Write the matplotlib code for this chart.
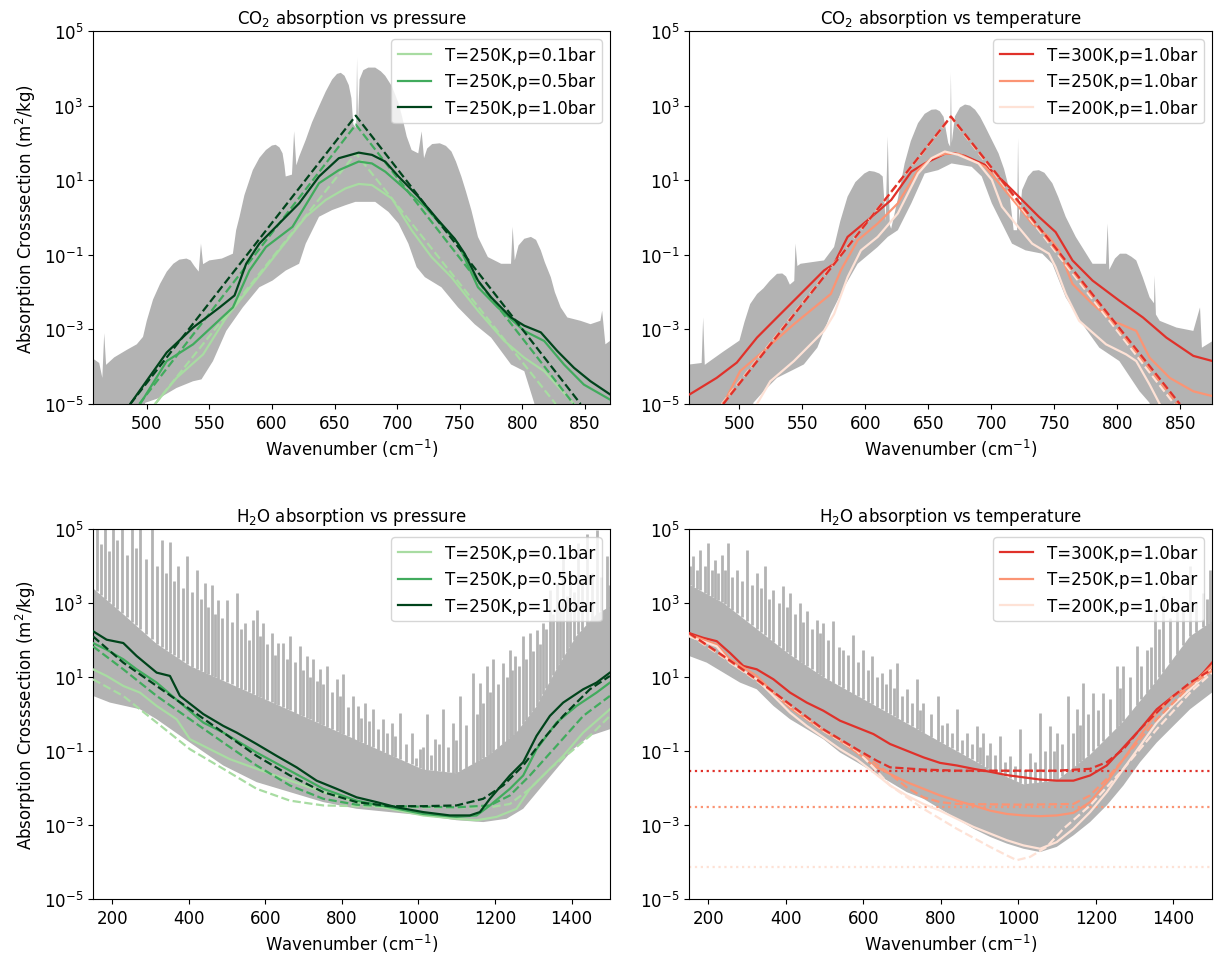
import matplotlib.pyplot as plt
import matplotlib.ticker as mticker
import numpy as np

# All series are (wavenumber in cm-1, log10 of cross-section in m2/kg).

# ---- CO2 vs pressure (T=250K) ----
co2p_gray_top = [(457.7, -3.80), (462, -3.90), (464.5, -4.3), (466, -3.10), (467.5, -3.95), (474, -3.75),
                 (484, -3.55), (492, -3.40), (497, -3.2), (500, -2.77), (505, -2.2), (510.6, -1.78),
                 (516, -1.45), (521.2, -1.24), (526, -1.13), (531.7, -1.10), (535, -1.15), (538, -1.30),
                 (541.5, -1.45), (543.3, -0.70), (545, -1.25), (550, -1.15), (560, -1.10), (568.8, -0.97),
                 (571.4, -0.34), (574.1, 0.02), (578, 0.60), (584.7, 1.27), (590, 1.60), (595.2, 1.81),
                 (600, 1.93), (603, 1.95), (606, 1.88), (608.5, 1.72), (610, 1.40), (611, 1.10), (616, 1.15),
                 (617.7, 2.31), (619.5, 1.40), (621.7, 1.63), (627, 2.08), (632, 2.55), (637.6, 2.98),
                 (643, 3.38), (648.1, 3.70), (652, 3.85), (655, 3.88), (658, 3.80), (661.4, 3.55),
                 (663.5, 3.20), (665, 2.50), (667.3, 2.40), (668, 4.28), (668.7, 2.50), (670, 3.70),
                 (673, 3.95), (677, 4.02), (682.5, 4.02), (687, 3.92), (690.5, 3.80), (695.8, 3.52),
                 (701.1, 3.07), (704, 2.70), (707.7, 2.17), (711.6, 1.81), (716.9, 1.72), (719.6, 2.31),
                 (721.5, 1.59), (724, 1.85), (728, 1.97), (734.1, 1.99), (739, 1.92), (743.4, 1.77),
                 (747, 1.50), (751.3, 1.10), (755, 0.70), (759.3, 0.20), (764.6, -0.52), (772.5, -1.06),
                 (783.1, -1.24), (791, -1.24), (792.3, -0.25), (794, -1.15), (797, -0.75), (801.6, -0.57),
                 (806.9, -0.52), (811, -0.60), (814.8, -0.88), (818, -1.20), (822.8, -1.60), (826, -2.0),
                 (830.7, -2.41), (836, -2.68), (846.6, -2.77), (854.5, -2.86), (862.4, -2.77), (863.8, -2.5),
                 (866.4, -3.40), (870, -3.31)]
co2p_gray_bottom = [(457.7, -5.3), (497, -5.3), (498.7, -4.97), (510.6, -4.83), (523.8, -4.57), (537, -4.39),
                    (543.7, -4.34), (552.9, -3.85), (563.5, -3.04), (576.7, -2.41), (589.9, -1.87),
                    (600.5, -1.69), (611.1, -1.42), (621.7, -1.24), (627, -0.70), (637.6, 0.02), (648.1, 0.20),
                    (658.7, 0.33), (666.7, 0.42), (682.5, 0.42), (693.1, 0.15), (701.1, -0.16), (709, -0.70),
                    (715.6, -1.33), (722.2, -1.60), (735.4, -1.87), (748.7, -2.41), (761.9, -2.86),
                    (775.1, -3.22), (791, -3.94), (801.6, -4.12), (809.5, -4.97), (812, -5.3), (870, -5.3)]
co2p_k01 = [(506.6, -5.0), (523.8, -4.30), (545, -3.67), (563.5, -2.68), (584.7, -1.78), (605.8, -0.88),
            (627, 0.02), (642.9, 0.47), (658.7, 0.78), (669.3, 0.90), (679.9, 0.87), (695.8, 0.51),
            (711.6, -0.34), (727.5, -1.06), (743.4, -1.60), (764.6, -2.50), (785.7, -3.31), (801.6, -3.76),
            (817.5, -4.12), (841.3, -5.0)]
co2p_k05 = [(494.7, -5.0), (515.9, -3.85), (537, -3.40), (568.8, -2.41), (582, -1.42), (595.2, -0.79),
            (616.4, -0.25), (637.6, 0.92), (653.4, 1.27), (669.3, 1.50), (679.9, 1.45), (690.5, 1.23),
            (701.1, 0.92), (722.2, 0.29), (748.7, -0.70), (764.6, -1.87), (780.4, -2.41), (801.6, -3.04),
            (817.5, -3.31), (833.3, -3.94), (849.2, -4.48), (870, -4.88)]
co2p_k10 = [(486.8, -5.0), (515.9, -3.62), (537, -2.95), (558.2, -2.41), (570.1, -2.09), (579.4, -1.24),
            (589.9, -0.70), (605.8, -0.16), (621.7, 0.38), (637.6, 1.10), (653.4, 1.59), (669.3, 1.74),
            (679.9, 1.68), (690.5, 1.50), (701.1, 1.10), (716.9, 0.56), (732.8, -0.07), (746, -0.57),
            (754, -0.97), (764.6, -1.69), (775.1, -2.14), (791, -2.68), (801.6, -2.90), (814.8, -3.08),
            (828, -3.58), (841.3, -4.03), (854.5, -4.39), (870, -4.74)]
co2p_fit01 = [(506.6, -5.0), (667, 1.72), (826.7, -5.0)]
co2p_fit05 = [(494, -5.0), (667, 2.49), (841, -5.0)]
co2p_fit10 = [(486.8, -5.0), (667, 2.73), (846.6, -5.0)]

# ---- CO2 vs temperature (p=1.0bar) ----
co2t_gray_top = [(460.6, -3.94), (470, -3.90), (471.2, -2.68), (472.5, -3.95), (476.6, -3.85), (487, -3.60),
                 (500, -3.30), (504, -2.80), (508.5, -2.32), (514, -2.05), (519, -1.90), (524, -1.70),
                 (529.8, -1.51), (534, -1.50), (537, -1.58), (540, -1.80), (543.5, -1.70), (544.5, -0.70),
                 (546, -1.30), (548.5, -1.24), (567.1, -1.15), (575.1, -0.79), (580, -0.10), (585.8, 0.56),
                 (592, 0.95), (599.1, 1.18), (603, 1.25), (607.1, 1.23), (611, 1.18), (613.7, 1.10),
                 (616, -0.10), (617.7, 2.17), (619.3, -0.20), (620.4, -0.30), (625.7, 0.50), (631.1, 1.45),
                 (636, 2.05), (641.7, 2.53), (647, 2.78), (652.4, 2.89), (656, 2.90), (659, 2.85),
                 (662, 2.70), (665.7, 2.00), (667.2, 1.90), (667.8, 3.88), (668.5, 2.00), (671, 2.71),
                 (675, 2.95), (679, 3.03), (683, 3.0), (687, 2.89), (691, 2.70), (695, 2.44), (700, 2.10),
                 (705.6, 1.72), (710, 1.30), (713.6, 0.83), (717.6, -0.34), (720.3, -0.34), (721.1, 2.13),
                 (722, -0.10), (724.3, 0.74), (729, 1.10), (733, 1.25), (737.6, 1.27), (742, 1.20),
                 (748.3, 0.92), (753, 0.55), (758.9, 0.02), (766.9, -0.52), (780.2, -1.24), (790.9, -1.24),
                 (792.2, -0.16), (793.5, -1.40), (798, -1.10), (802, -0.97), (806.9, -0.97), (811, -1.05),
                 (814.9, -1.15), (820, -1.60), (825.5, -2.14), (829, -2.3), (829.5, -1.56), (830.5, -2.6),
                 (833.5, -2.77), (846.8, -2.95), (860.2, -3.04), (865.5, -2.41), (867, -3.49), (875.6, -3.31)]
co2t_gray_bottom = [(460.6, -5.3), (511, -5.3), (511, -4.97), (519.2, -4.66), (529.8, -4.30), (540.5, -4.12),
                    (551.1, -3.94), (561.8, -3.49), (572.5, -2.59), (583.1, -1.87), (593.8, -1.24),
                    (609.7, -0.79), (617.7, -0.52), (625.7, -0.34), (636.4, 0.38), (647, 1.18), (657.7, 1.27),
                    (668.3, 1.45), (684.3, 1.36), (692.3, 1.10), (700.3, 0.38), (708.3, -0.16), (716.3, -0.70),
                    (727, -0.88), (740.3, -0.97), (748.3, -1.24), (758.9, -2.14), (772.2, -2.86),
                    (785.6, -3.49), (801.5, -3.85), (817.5, -4.66), (825.5, -4.97), (827, -5.3), (875.6, -5.3)]
co2t_k300 = [(460.6, -4.74), (481.9, -4.30), (497.9, -3.89), (513.9, -3.22), (529.8, -2.68), (548.5, -2.05),
             (567.1, -1.42), (575.1, -1.24), (585.8, -0.52), (601.8, -0.07), (620.4, 0.47), (636.4, 1.23),
             (647, 1.45), (663, 1.71), (671, 1.72), (679, 1.65), (695, 1.41), (711, 0.92), (727, 0.38),
             (737.6, 0.02), (750.9, -0.39), (764.3, -1.15), (780.2, -1.69), (801.5, -2.23), (820.2, -2.68),
             (838.8, -3.22), (860.2, -3.71), (875.6, -3.85)]
co2t_k250 = [(487.2, -5.0), (500.5, -4.12), (519.2, -3.58), (543.2, -2.86), (572.5, -2.05), (580.4, -1.42),
             (593.8, -0.61), (609.7, -0.16), (625.7, 0.38), (641.7, 1.27), (652.4, 1.59), (663, 1.71),
             (673.7, 1.71), (689.7, 1.45), (695, 1.36), (708.3, 0.83), (721.6, 0.29), (732.3, -0.16),
             (745.6, -0.52), (753.6, -0.88), (764.3, -1.78), (780.2, -2.32), (796.2, -2.77), (814.9, -3.04),
             (825.5, -3.76), (841.5, -4.30), (860.2, -4.66), (875.6, -4.79)]
co2t_k200 = [(513.9, -5.0), (524.5, -4.39), (543.2, -3.85), (567.1, -3.04), (575.1, -2.59), (585.8, -1.60),
             (596.4, -0.88), (609.7, -0.52), (625.7, 0.11), (641.7, 1.18), (652.4, 1.59), (663, 1.77),
             (673.7, 1.68), (689.7, 1.45), (700.3, 1.01), (708.3, 0.29), (719, -0.16), (732.3, -0.70),
             (745.6, -0.97), (750.9, -1.33), (758.9, -2.05), (769.6, -2.77), (790.9, -3.40), (806.9, -3.67),
             (814.9, -3.85), (825.5, -4.48), (833.5, -5.0)]
co2t_fit300 = [(487.2, -5.0), (667.8, 2.71), (849.5, -5.0)]
co2t_fit250 = [(486.5, -5.0), (667.8, 2.70), (847.5, -5.0)]
co2t_fit200 = [(486, -5.0), (667.8, 2.69), (845, -5.0)]

# ---- H2O vs pressure (T=250K) ----
h2op_gray_peaks = [(159.6, 5.1), (181.4, 5.1), (203.1, 5.1), (224.9, 5.1), (251, 5.1), (272.7, 5.1),
                   (303.2, 5.1), (329.3, 4.70), (351.1, 4.66), (372.8, 3.99), (394.6, 4.26), (420.7, 3.90),
                   (442.5, 3.54), (459.9, 3.49), (477.3, 3.09), (499, 3.09), (525.1, 3.27), (546.9, 2.46),
                   (568.6, 2.55), (577.4, 2.82), (594.8, 2.46), (616.5, 2.19), (633.9, 1.92), (647, 1.92),
                   (664.4, 2.10), (690.5, 1.83), (707.9, 1.57), (725.3, 1.48), (742.7, 1.21), (760.1, 1.30),
                   (786.2, 0.94), (803.6, 1.07), (829.7, 0.49), (842.8, 0.22), (860.2, 0.31), (882, 0.13),
                   (908.1, -0.14), (929.8, -0.23), (951.6, 0.04), (982, -0.50), (1003.8, -0.95), (1021.2, 0.0),
                   (1043, -0.68), (1064.7, 0.13), (1090.8, -0.23), (1108.2, 0.49), (1143, 1.12), (1160.4, 0.85),
                   (1177.9, 1.30), (1195.3, 1.48), (1221.4, 1.39), (1238.8, 1.74), (1251.9, 1.57),
                   (1273.6, 2.10), (1291, 2.19), (1308.4, 2.28), (1325.9, 2.46), (1343.3, 3.36), (1360.6, 3.54),
                   (1378, 4.26), (1395.5, 3.81), (1417.2, 4.61), (1438.9, 4.88), (1465.1, 4.97), (1491.2, 4.26)]
h2op_gray_minor = [(170, 4.6), (192, 4.4), (214, 4.7), (238, 4.3), (262, 4.5), (288, 4.2), (316, 4.0),
                   (340, 3.8), (362, 3.6), (384, 3.4), (408, 3.3), (431, 3.1), (451, 2.9), (468, 2.7),
                   (488, 2.6), (512, 2.5), (536, 2.3), (558, 2.0), (586, 2.1), (605, 1.9), (625, 1.6),
                   (656, 1.5), (677, 1.4), (699, 1.2), (716, 1.0), (734, 0.9), (751, 0.8), (773, 0.6),
                   (795, 0.5), (816, 0.2), (851, -0.1), (871, -0.2), (895, -0.4), (919, -0.5), (940, -0.6),
                   (967, -0.8), (993, -1.2), (1012, -0.9), (1032, -1.1), (1054, -0.8), (1078, -0.9),
                   (1099, -0.7), (1125, -0.3), (1152, 0.0), (1169, 0.3), (1186, 0.6), (1208, 0.8), (1230, 1.0),
                   (1245, 1.2), (1262, 1.3), (1282, 1.5), (1299, 1.7), (1317, 1.9), (1334, 2.3), (1352, 2.7),
                   (1369, 3.0), (1387, 3.2), (1406, 3.3), (1428, 3.6), (1452, 3.8), (1478, 3.7), (1496, 3.5)]
h2op_gray_body = [(150, 3.4), (229, 2.7), (316, 1.9), (403, 1.3), (490, 0.9), (577, 0.5), (664, 0.1),
                  (751, -0.3), (838, -0.7), (925, -1.1), (1012, -1.5), (1099, -1.6), (1186, -1.1),
                  (1256, -0.5), (1308, 0.2), (1360, 1.2), (1412, 2.1), (1465, 2.7), (1500, 2.9)]
h2op_gray_bottom = [(150, 0.49), (194.4, 0.31), (272.7, 0.13), (316.3, -0.14), (403.3, -0.77), (490.3, -1.39),
                    (577.4, -1.84), (664.4, -2.11), (751.4, -2.38), (838.4, -2.56), (925.5, -2.65),
                    (1012.5, -2.74), (1099.5, -2.87), (1169.2, -2.92), (1230.1, -2.83), (1273.6, -2.56),
                    (1317.1, -2.02), (1360.6, -1.48), (1404.2, -0.95), (1447.7, -0.59), (1500, -0.41)]
h2op_k01 = [(150, 1.21), (185.7, 1.03), (229.2, 0.76), (272.7, 0.58), (316.3, 0.22), (368.5, -0.14),
            (403.3, -0.68), (455.5, -0.95), (507.7, -1.22), (577.4, -1.48), (664.4, -1.80), (751.4, -2.11),
            (838.4, -2.38), (925.5, -2.56), (1012.5, -2.74), (1099.5, -2.83), (1151.8, -2.87), (1204, -2.78),
            (1256.2, -2.56), (1291, -2.02), (1343.3, -1.48), (1378, -1.13), (1430.3, -0.50), (1500, 0.13)]
h2op_k05 = [(150, 1.92), (185.7, 1.74), (229.2, 1.48), (264, 1.21), (316.3, 0.85), (377.2, 0.31),
            (438.1, -0.23), (490.3, -0.50), (577.4, -1.04), (664.4, -1.53), (751.4, -2.02), (838.4, -2.34),
            (925.5, -2.52), (1012.5, -2.70), (1099.5, -2.78), (1151.8, -2.74), (1186.6, -2.47),
            (1238.8, -2.02), (1273.6, -1.66), (1308.4, -0.95), (1360.6, -0.23), (1412.9, 0.22),
            (1465.1, 0.58), (1500, 0.85)]
h2op_k10 = [(150, 2.24), (185.7, 2.01), (229.2, 1.92), (264, 1.57), (316.3, 1.12), (351.1, 1.03),
            (377.2, 0.49), (438.1, 0.0), (490.3, -0.32), (525.1, -0.50), (577.4, -0.81), (629.6, -1.13),
            (681.8, -1.44), (734, -1.80), (786.2, -2.02), (838.4, -2.25), (890.7, -2.38), (942.9, -2.52),
            (1012.5, -2.65), (1082.2, -2.74), (1134.3, -2.74), (1160.4, -2.65), (1186.6, -2.29),
            (1238.8, -1.66), (1273.6, -1.30), (1308.4, -0.59), (1343.3, -0.05), (1378, 0.31),
            (1430.3, 0.67), (1465.1, 0.85), (1500, 1.12)]
h2op_fit01 = [(150, 0.94), (229.2, 0.49), (316.3, -0.23), (403.3, -0.95), (490.3, -1.48), (577.4, -2.02),
              (664.4, -2.34), (751.4, -2.47), (838.4, -2.49), (1012.5, -2.52), (1186.6, -2.52),
              (1238.8, -2.43), (1291, -2.02), (1343.3, -1.48), (1395.5, -1.04), (1447.7, -0.59), (1500, -0.05)]
h2op_fit05 = [(150, 1.83), (229.2, 1.21), (316.3, 0.49), (403.3, -0.14), (490.3, -0.77), (577.4, -1.39),
              (664.4, -1.93), (751.4, -2.29), (838.4, -2.45), (925.5, -2.49), (1099.5, -2.52),
              (1186.6, -2.47), (1238.8, -2.20), (1291, -1.66), (1360.6, -0.86), (1430.3, -0.05), (1500, 0.49)]
h2op_fit10 = [(150, 2.10), (229.2, 1.39), (316.3, 0.76), (403.3, 0.13), (490.3, -0.50), (577.4, -1.13),
              (664.4, -1.66), (751.4, -2.11), (838.4, -2.38), (925.5, -2.49), (1012.5, -2.49),
              (1099.5, -2.47), (1169.2, -2.29), (1221.4, -1.93), (1273.6, -1.39), (1325.9, -0.68),
              (1378, -0.05), (1447.7, 0.67), (1500, 1.03)]

# ---- H2O vs temperature (p=1.0bar) ----
h2ot_gray_peaks = [(161.2, 4.26), (178.4, 4.43), (199.9, 4.61), (217.1, 4.17), (234.4, 4.30), (251.6, 4.61),
                   (273.1, 3.90), (298.9, 4.43), (324.7, 3.81), (346.2, 3.99), (367.8, 3.36), (393.6, 3.45),
                   (410.8, 3.27), (436.6, 3.0), (453.8, 2.78), (479.6, 2.55), (496.8, 2.46), (522.6, 2.51),
                   (548.5, 1.74), (574.3, 2.15), (600.1, 1.74), (621.6, 1.57), (647.5, 1.12), (669, 1.21),
                   (686.2, 1.39), (712, 0.67), (737.8, 0.94), (755, 0.31), (793.7, 0.49), (815.3, -0.23),
                   (841.1, 0.13), (866.9, -0.50), (892.7, -0.32), (909.9, -0.50), (927.1, -0.77), (952.9, -0.59),
                   (978.8, -1.13), (1004.6, -0.41), (1030.4, -1.04), (1056.2, 0.04), (1082, -0.32),
                   (1099.3, -0.50), (1129.4, 0.49), (1150.9, 0.13), (1168.1, 0.85), (1193.9, 0.58),
                   (1219.7, 0.58), (1254.2, 1.30), (1271.4, 1.30), (1305.8, 1.83), (1331.6, 1.74),
                   (1353.1, 2.82), (1374.6, 3.18), (1409, 3.09), (1443.5, 3.99), (1477.9, 3.27), (1495, 3.9)]
h2ot_gray_minor = [(152, 4.0), (170, 3.9), (190, 4.0), (208, 3.9), (226, 3.8), (243, 3.9), (262, 3.7),
                   (286, 3.6), (312, 3.5), (336, 3.4), (357, 3.1), (381, 3.0), (402, 2.9), (424, 2.7),
                   (445, 2.5), (467, 2.3), (488, 2.2), (510, 2.0), (536, 1.8), (561, 1.6), (587, 1.4),
                   (611, 1.2), (635, 1.0), (658, 0.8), (678, 0.7), (699, 0.5), (725, 0.3), (746, 0.1),
                   (774, 0.0), (804, -0.3), (828, -0.5), (854, -0.7), (880, -0.8), (901, -0.9), (918, -1.1),
                   (940, -1.1), (966, -1.3), (992, -1.4), (1017, -1.5), (1043, -1.3), (1069, -1.0),
                   (1091, -1.0), (1114, -0.8), (1140, -0.5), (1160, -0.3), (1181, 0.0), (1207, 0.1),
                   (1237, 0.4), (1262, 0.7), (1288, 1.0), (1318, 1.3), (1342, 1.8), (1364, 2.3), (1392, 2.6),
                   (1426, 2.9), (1460, 3.0), (1486, 3.1)]
h2ot_gray_body = [(150, 3.5), (238.7, 3.0), (324.7, 2.3), (410.8, 1.6), (496.8, 1.0), (582.9, 0.5), (669, 0.0),
                  (755, -0.5), (841.1, -1.0), (927.1, -1.5), (1013.2, -1.9), (1099.3, -1.8), (1185.3, -1.1),
                  (1271.4, -0.2), (1357.4, 0.9), (1443.5, 2.1), (1500, 2.5)]
h2ot_gray_bottom = [(150, 1.57), (195.6, 1.39), (238.7, 1.12), (281.7, 0.85), (324.7, 0.67), (367.8, 0.22),
                    (410.8, -0.14), (453.8, -0.41), (496.8, -0.68), (539.9, -1.04), (582.9, -1.30),
                    (625.9, -1.57), (669, -1.84), (712, -2.11), (755, -2.29), (798, -2.56), (841.1, -2.83),
                    (884.1, -3.10), (927.1, -3.32), (970.2, -3.50), (1013.2, -3.64), (1056.2, -3.73),
                    (1099.3, -3.59), (1142.3, -3.28), (1185.3, -2.92), (1228.3, -2.47), (1271.4, -1.93),
                    (1314.4, -1.30), (1357.4, -0.77), (1400.4, -0.32), (1443.5, 0.13), (1500, 0.58)]
h2ot_k300 = [(150, 2.19), (187, 2.06), (221.4, 1.97), (255.9, 1.65), (290.3, 1.30), (324.7, 1.21),
             (367.8, 0.94), (410.8, 0.58), (453.8, 0.31), (496.8, 0.09), (539.9, -0.18), (582.9, -0.36),
             (625.9, -0.54), (669, -0.81), (712, -0.99), (755, -1.17), (798, -1.32), (841.1, -1.39),
             (884.1, -1.48), (927.1, -1.56), (970.2, -1.65), (1013.2, -1.71), (1056.2, -1.77), (1099.3, -1.80),
             (1142.3, -1.80), (1185.3, -1.66), (1228.3, -1.39), (1271.4, -0.90), (1314.4, -0.41),
             (1357.4, 0.13), (1400.4, 0.49), (1443.5, 0.76), (1477.9, 1.12), (1500, 1.39)]
h2ot_k250 = [(150, 2.15), (221.4, 1.88), (255.9, 1.48), (324.7, 1.03), (367.8, 0.58), (410.8, 0.17),
             (453.8, -0.14), (496.8, -0.45), (539.9, -0.72), (582.9, -1.04), (625.9, -1.39), (669, -1.62),
             (712, -1.84), (755, -2.02), (798, -2.20), (841.1, -2.34), (884.1, -2.47), (927.1, -2.61),
             (970.2, -2.70), (1013.2, -2.74), (1056.2, -2.76), (1099.3, -2.74), (1142.3, -2.67),
             (1185.3, -2.38), (1228.3, -1.84), (1271.4, -1.22), (1314.4, -0.59), (1357.4, 0.04),
             (1400.4, 0.49), (1443.5, 0.76), (1500, 1.30)]
h2ot_k200 = [(150, 2.10), (221.4, 1.83), (255.9, 1.39), (324.7, 0.94), (367.8, 0.49), (410.8, 0.04),
             (453.8, -0.32), (496.8, -0.63), (539.9, -0.95), (582.9, -1.22), (625.9, -1.57), (669, -1.93),
             (712, -2.20), (755, -2.43), (798, -2.61), (841.1, -2.83), (884.1, -3.05), (927.1, -3.23),
             (970.2, -3.41), (1013.2, -3.55), (1056.2, -3.64), (1099.3, -3.46), (1142.3, -3.10),
             (1185.3, -2.65), (1228.3, -2.11), (1271.4, -1.48), (1314.4, -0.86), (1357.4, -0.23),
             (1400.4, 0.26), (1443.5, 0.67), (1500, 1.21)]
h2ot_fit300 = [(150, 2.19), (238.7, 1.57), (324.7, 0.94), (410.8, 0.26), (496.8, -0.41), (582.9, -0.95),
               (634.5, -1.26), (669, -1.44), (755, -1.50), (841.1, -1.53), (1013.2, -1.53), (1099.3, -1.53),
               (1185.3, -1.48), (1228.3, -1.30), (1271.4, -0.95), (1314.4, -0.41), (1357.4, 0.04),
               (1400.4, 0.49), (1443.5, 0.85), (1500, 1.21)]
h2ot_fit250 = [(150, 2.17), (238.7, 1.55), (324.7, 0.92), (410.8, 0.24), (496.8, -0.43), (582.9, -0.97),
               (669, -1.62), (712, -1.98), (755, -2.25), (798, -2.38), (841.1, -2.43), (1013.2, -2.45),
               (1142.3, -2.43), (1185.3, -2.20), (1228.3, -1.75), (1271.4, -1.22), (1314.4, -0.68),
               (1357.4, -0.14), (1400.4, 0.31), (1443.5, 0.76), (1500, 1.17)]
h2ot_fit200 = [(150, 2.15), (238.7, 1.53), (324.7, 0.90), (410.8, 0.22), (496.8, -0.45), (582.9, -0.99),
               (625.9, -1.44), (669, -1.93), (755, -2.56), (841.1, -3.10), (927.1, -3.59), (970.2, -3.82),
               (996, -3.95), (1030.4, -3.86), (1073.4, -3.59), (1116.5, -3.10), (1185.3, -2.47),
               (1271.4, -1.48), (1357.4, -0.41), (1443.5, 0.58), (1500, 1.12)]
h2ot_limits = [-1.53, -2.50, -4.13]   # log10 of the dotted levels, 300K/250K/200K

p_labels = ['T=250K,p=0.1bar', 'T=250K,p=0.5bar', 'T=250K,p=1.0bar']
t_labels = ['T=300K,p=1.0bar', 'T=250K,p=1.0bar', 'T=200K,p=1.0bar']
green = ['#a8dca2', '#41ab5d', '#00441b']
red = ['#e0312a', '#fb9474', '#fee2d6']
gray = '#b3b3b3'

plt.rcParams['font.size'] = 12
plt.rcParams['axes.titlesize'] = 12


def xy(pts):
    a = np.array(pts, dtype=float)
    return a[:, 0], 10 ** a[:, 1]


def gray_band(ax, top, bottom):
    xt, yt = xy(top)
    xb, yb = xy(bottom)
    ax.fill(np.r_[xt, xb[::-1]], np.r_[yt, yb[::-1]], color=gray, lw=0, zorder=1)


def gray_spikes(ax, peaks, minor, body, bottom):
    gray_band(ax, body, bottom)
    xb, lb = np.array(body, dtype=float).T
    for pts in (peaks, minor):
        xp, yp = xy(pts)
        base = 10 ** np.interp(xp, xb, lb)
        ax.vlines(xp, base, yp, color=gray, lw=2.0, zorder=1)


def style(ax, title, xlim, xticks, ylabel=True):
    ax.set_yscale('log')
    ax.set_ylim(1e-5, 1e5)
    ax.yaxis.set_major_locator(mticker.FixedLocator([1e-5, 1e-3, 1e-1, 1e1, 1e3, 1e5]))
    ax.yaxis.set_minor_locator(mticker.NullLocator())
    ax.set_xlim(*xlim)
    ax.set_xticks(xticks)
    ax.set_title(title)
    ax.set_xlabel('Wavenumber (cm$^{-1}$)')
    if ylabel:
        ax.set_ylabel('Absorption Crosssection (m$^2$/kg)')
    ax.legend(loc='upper right', fontsize=12)


fig = plt.figure(figsize=(12.23, 9.62), dpi=100)
ax_tl = fig.add_axes([0.0760, 0.5790, 0.4227, 0.3877])
ax_tr = fig.add_axes([0.5634, 0.5790, 0.4276, 0.3877])
ax_bl = fig.add_axes([0.0760, 0.0644, 0.4227, 0.3846])
ax_br = fig.add_axes([0.5634, 0.0644, 0.4276, 0.3846])

# CO2 vs pressure
gray_band(ax_tl, co2p_gray_top, co2p_gray_bottom)
for k, fit, c, lab in zip([co2p_k01, co2p_k05, co2p_k10], [co2p_fit01, co2p_fit05, co2p_fit10], green, p_labels):
    ax_tl.plot(*xy(k), color=c, lw=1.6, label=lab, zorder=3)
    ax_tl.plot(*xy(fit), color=c, lw=1.6, ls='--', zorder=3)
style(ax_tl, 'CO$_2$ absorption vs pressure', (457, 870), range(500, 851, 50))

# CO2 vs temperature
gray_band(ax_tr, co2t_gray_top, co2t_gray_bottom)
for k, c, lab in zip([co2t_k300, co2t_k250, co2t_k200], red, t_labels):
    ax_tr.plot(*xy(k), color=c, lw=1.6, label=lab, zorder=3)
for fit, c in zip([co2t_fit200, co2t_fit250, co2t_fit300], red[::-1]):
    ax_tr.plot(*xy(fit), color=c, lw=1.6, ls='--', zorder=3)
style(ax_tr, 'CO$_2$ absorption vs temperature', (460, 875), range(500, 851, 50), ylabel=False)

# H2O vs pressure
gray_spikes(ax_bl, h2op_gray_peaks, h2op_gray_minor, h2op_gray_body, h2op_gray_bottom)
for k, fit, c, lab in zip([h2op_k01, h2op_k05, h2op_k10], [h2op_fit01, h2op_fit05, h2op_fit10], green, p_labels):
    ax_bl.plot(*xy(k), color=c, lw=1.6, label=lab, zorder=3)
    ax_bl.plot(*xy(fit), color=c, lw=1.6, ls='--', zorder=3)
style(ax_bl, 'H$_2$O absorption vs pressure', (150, 1500), range(200, 1401, 200))

# H2O vs temperature
gray_spikes(ax_br, h2ot_gray_peaks, h2ot_gray_minor, h2ot_gray_body, h2ot_gray_bottom)
for k, c, lab in zip([h2ot_k300, h2ot_k250, h2ot_k200], red, t_labels):
    ax_br.plot(*xy(k), color=c, lw=1.6, label=lab, zorder=3)
for fit, lim, c in zip([h2ot_fit200, h2ot_fit250, h2ot_fit300], h2ot_limits[::-1], red[::-1]):
    ax_br.plot(*xy(fit), color=c, lw=1.6, ls='--', zorder=3)
    ax_br.axhline(10 ** lim, color=c, lw=1.6, ls=':', zorder=2)
style(ax_br, 'H$_2$O absorption vs temperature', (150, 1500), range(200, 1401, 200), ylabel=False)

fig.savefig('out.png', dpi=100)
